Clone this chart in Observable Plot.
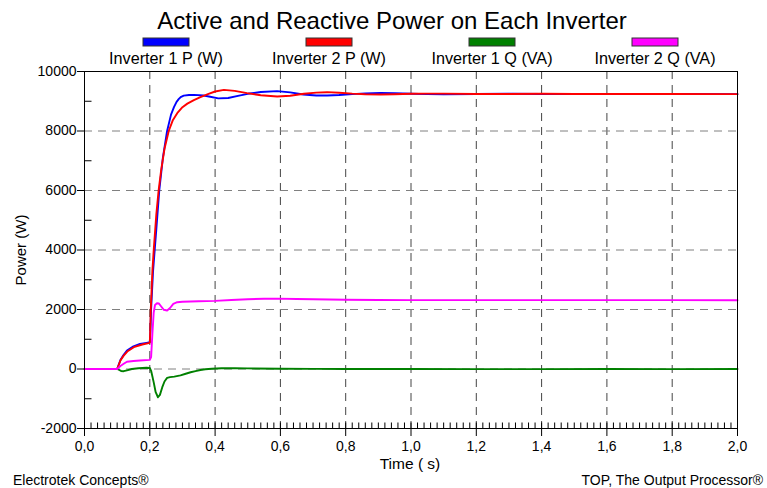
<!DOCTYPE html>
<html><head><meta charset="utf-8">
<script src="https://cdn.jsdelivr.net/npm/d3@7"></script>
<script src="https://cdn.jsdelivr.net/npm/@observablehq/plot@0.6"></script>
<style>
body{margin:0;background:#fff;}
#wrap{position:relative;width:767px;height:488px;overflow:hidden;}
</style></head><body><div id="wrap"></div>
<script>
// ---- data ----
const seriesNames = ["Inverter 1 P (W)", "Inverter 2 P (W)", "Inverter 1 Q (VA)", "Inverter 2 Q (VA)"];
const seriesColors = ["#0000ff", "#ff0000", "#008000", "#ff00ff"];

const tInv1P = [0, 0.1, 0.11, 0.12, 0.13, 0.15, 0.17, 0.19, 0.2, 0.202, 0.204, 0.21, 0.215, 0.22, 0.229, 0.24, 0.253, 0.265, 0.274, 0.282, 0.289, 0.296, 0.304, 0.32, 0.335, 0.365, 0.385, 0.41, 0.44, 0.47, 0.5, 0.54, 0.59, 0.63, 0.67, 0.71, 0.743, 0.78, 0.82, 0.86, 0.907, 0.95, 1.0, 1.05, 1.1, 1.2, 1.3, 1.4, 1.5, 1.6, 1.8, 2.0];
const vInv1P = [0, 0, 300, 480, 620, 760, 840, 880, 900, 1300, 2000, 3300, 4000, 4700, 6000, 7100, 8000, 8550, 8800, 8980, 9080, 9150, 9190, 9210, 9215, 9193, 9150, 9095, 9110, 9180, 9250, 9310, 9340, 9300, 9226, 9195, 9193, 9210, 9240, 9265, 9283, 9270, 9250, 9240, 9235, 9245, 9250, 9245, 9242, 9245, 9243, 9240];

const tInv2P = [0, 0.1, 0.11, 0.12, 0.131, 0.151, 0.177, 0.2, 0.201, 0.203, 0.208, 0.212, 0.22, 0.227, 0.235, 0.245, 0.258, 0.27, 0.284, 0.3, 0.315, 0.335, 0.355, 0.38, 0.4, 0.427, 0.46, 0.498, 0.54, 0.59, 0.63, 0.672, 0.71, 0.743, 0.78, 0.82, 0.86, 0.907, 0.95, 1.0, 1.05, 1.1, 1.2, 1.3, 1.4, 1.5, 1.6, 1.8, 2.0];
const vInv2P = [0, 0, 285, 450, 588, 733, 824, 880, 1200, 2000, 3300, 4000, 5200, 6000, 6700, 7400, 8000, 8350, 8600, 8800, 8920, 9040, 9140, 9250, 9328, 9384, 9350, 9272, 9200, 9160, 9185, 9250, 9290, 9305, 9285, 9255, 9235, 9227, 9235, 9250, 9258, 9255, 9245, 9245, 9250, 9245, 9245, 9243, 9240];

const tInv1Q = [0, 0.1, 0.105, 0.112, 0.12, 0.13, 0.145, 0.165, 0.19, 0.2, 0.204, 0.208, 0.212, 0.218, 0.225, 0.231, 0.238, 0.245, 0.253, 0.262, 0.275, 0.294, 0.31, 0.325, 0.34, 0.355, 0.37, 0.39, 0.42, 0.46, 0.5, 0.6, 0.7, 0.8, 0.9, 1.0, 1.2, 1.4, 1.6, 1.8, 2.0];
const vInv1Q = [0, 0, -25, -65, -74, -45, 0, 25, 40, 35, -60, -250, -450, -780, -950, -870, -620, -420, -300, -275, -255, -215, -160, -110, -70, -35, -10, 10, 25, 25, 20, 10, 5, 0, 0, 0, -5, -5, 0, -5, 0];

const tInv2Q = [0, 0.1, 0.11, 0.12, 0.13, 0.15, 0.17, 0.2, 0.204, 0.208, 0.212, 0.216, 0.222, 0.228, 0.235, 0.243, 0.253, 0.262, 0.272, 0.284, 0.3, 0.35, 0.4, 0.45, 0.5, 0.55, 0.59, 0.65, 0.7, 0.8, 0.9, 1.0, 1.2, 1.4, 1.6, 1.8, 2.0];
const vInv2Q = [0, 0, 100, 174, 245, 270, 285, 305, 400, 1200, 1900, 2150, 2210, 2200, 2100, 1990, 1966, 2050, 2190, 2246, 2260, 2275, 2290, 2320, 2345, 2360, 2365, 2355, 2345, 2330, 2320, 2315, 2315, 2315, 2315, 2315, 2312];

const xTicks = [0, 0.2, 0.4, 0.6, 0.8, 1.0, 1.2, 1.4, 1.6, 1.8, 2.0];
const xGrid = [0.2, 0.4, 0.6, 0.8, 1.0, 1.2, 1.4, 1.6, 1.8];
const xMinor = d3.range(1, 100).map(i => i / 50);
const yTicks = [-2000, 0, 2000, 4000, 6000, 8000, 10000];
const yGrid = [0, 2000, 4000, 6000, 8000];
const yMinor = [-1000, 1000, 3000, 5000, 7000, 9000];

const title = "Active and Reactive Power on Each Inverter";
const xLabel = "Time ( s)";
const yLabel = "Power (W)";
const footLeft = "Electrotek Concepts®";
const footRight = "TOP, The Output Processor®";

// ---- build ----
const times = [tInv1P, tInv2P, tInv1Q, tInv2Q];
const vals = [vInv1P, vInv2P, vInv1Q, vInv2Q];
const rows = seriesNames.flatMap((name, k) => times[k].map((t, i) => ({t, v: vals[k][i], name})));

const W = 767, H = 488, mL = 84, mR = 30, mT = 71, mB = 60;
const pxX = 2 / (W - mL - mR), pxY = 12000 / (H - mT - mB);
const font = "'Liberation Sans', Arial, sans-serif";

const chart = Plot.plot({
  width: W, height: H, marginLeft: mL, marginRight: mR, marginTop: mT, marginBottom: mB,
  style: {fontFamily: font, fontSize: "14px", background: "#fff", color: "#000"},
  x: {domain: [0, 2]},
  y: {domain: [-2000, 10000]},
  color: {domain: seriesNames, range: seriesColors},
  marks: [
    Plot.ruleX(xGrid, {x: d => d, stroke: "#444", strokeDasharray: "8,6"}),
    Plot.ruleY(yGrid, {y: d => d, stroke: "#808080", strokeDasharray: "8,6"}),
    Plot.link(xMinor, {x1: d => d, x2: d => d, y1: -2000, y2: -2000 + 6 * pxY, stroke: "#000"}),
    Plot.link(yMinor, {x1: 0, x2: 7 * pxX, y1: d => d, y2: d => d, stroke: "#000"}),
    Plot.axisX(xTicks, {tickSize: 8, tickPadding: 5, label: null, fontSize: 14,
      tickFormat: d => d3.format(".1f")(d).replace(".", ",")}),
    Plot.axisY(yTicks, {tickSize: 7, tickPadding: 1, label: null, fontSize: 14,
      tickFormat: d => String(d)}),
    Plot.line(rows, {x: "t", y: "v", z: "name", stroke: "name", strokeWidth: 1.9}),
    Plot.frame({stroke: "#000"})
  ]
});
document.getElementById("wrap").appendChild(chart);

const svg = d3.select(chart);
const addText = (txt, x, y, size, anchor, rot) => {
  const t = svg.append("text").text(txt)
    .attr("font-family", font).attr("font-size", size).attr("fill", "#000")
    .attr("text-anchor", anchor);
  if (rot) t.attr("transform", `translate(${x},${y}) rotate(${rot})`);
  else t.attr("x", x).attr("y", y);
};
addText(title, 392, 29, 24, "middle");
const legendCenters = [166, 329, 492, 655];
seriesNames.forEach((n, i) => {
  svg.append("rect").attr("x", legendCenters[i] - 23).attr("y", 38).attr("width", 46).attr("height", 8)
    .attr("fill", seriesColors[i]).attr("stroke", "#333").attr("stroke-width", 1);
  addText(n, legendCenters[i], 64, 16.2, "middle");
});
addText(xLabel, 410, 469, 15.5, "middle");
addText(yLabel, 26, 250, 15, "middle", -90);
addText(footLeft, 13, 485, 14, "start");
addText(footRight, 763, 485, 14, "end");
</script></body></html>
